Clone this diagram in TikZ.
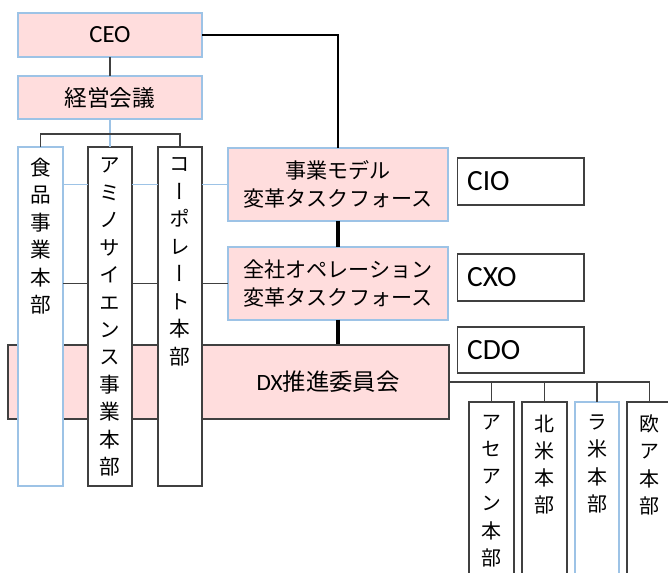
\documentclass[tikz,border=0pt]{standalone}
\usepackage{fontspec}
\setmainfont{Carlito}
\newfontfamily\jp{Noto Sans CJK JP}
\newfontfamily\jpv[RawFeature={+vert}]{Noto Sans CJK JP}
\definecolor{pinkf}{HTML}{FFDDDD}
\definecolor{blueb}{HTML}{9DC3E6}
\definecolor{darkb}{HTML}{404040}
\tikzset{
  pinkbox/.style={draw=blueb, fill=pinkf, line width=1pt, inner sep=0pt, outer sep=0pt},
  whitebox/.style={draw=darkb, fill=white, line width=1pt, inner sep=0pt, outer sep=0pt},
  bluewhite/.style={draw=blueb, fill=white, line width=1pt, inner sep=0pt, outer sep=0pt},
  vtext/.style={anchor=north, inner sep=0pt, align=center, font=\jpv\fontsize{15.5}{20.6}\selectfont},
  rtext/.style={anchor=north, inner sep=0pt, align=center, font=\jpv\fontsize{15}{20.4}\selectfont},
  dk/.style={draw=darkb, line width=0.8pt},
  bl/.style={draw=blueb, line width=0.8pt},
  thickA/.style={draw=black, line width=2pt},
  thickB/.style={draw=black, line width=3.5pt},
  cbox/.style={whitebox, text width=80pt, align=left, inner xsep=7.5pt, font=\fontsize{22}{24}\selectfont}
}
\begin{document}
\begin{tikzpicture}[x=0.75pt,y=-0.75pt]
\useasboundingbox (0,0) rectangle (668,573);
\clip (0,0) rectangle (668,573);
\fill[white] (0,0) rectangle (668,573);

% top boxes
\node[pinkbox, minimum width=138pt, minimum height=33pt, font=\fontsize{18.5}{20}\selectfont] (ceo) at (110,35) {CEO};
\node[pinkbox, minimum width=138pt, minimum height=32.25pt, font=\jp\fontsize{17}{20}\selectfont] (keiei) at (110,97.5) {経営会議};

% task forces
\node[pinkbox, minimum width=165pt, minimum height=54.75pt, align=center, font=\jp\fontsize{15.8}{21}\selectfont] (jigyo) at (338,184.5) {事業モデル\\変革タスクフォース};
\node[pinkbox, minimum width=165pt, minimum height=54.75pt, align=center, font=\jp\fontsize{15.8}{21}\selectfont] (zensha) at (338,283.5) {全社オペレーション\\変革タスクフォース};

% C-level boxes
\node[cbox, minimum height=35.25pt] (cio) at (520.5,181.5) {CIO};
\node[cbox, minimum height=35.25pt] (cxo) at (520.5,277.5) {CXO};
\node[cbox, minimum height=34.5pt] (cdo) at (520.5,350) {CDO};

% DX committee
\node[draw=darkb, fill=pinkf, line width=0.9pt, inner sep=0pt, minimum width=330.75pt, minimum height=55.5pt] (dx) at (228.5,382) {};
\node[inner sep=0pt, font=\fontsize{17.5}{20}\selectfont] (dxt) at (328,382) {DX{\jp 推進委員会}};

% vertical division boxes
\node[bluewhite, minimum width=33.75pt, minimum height=254.25pt] (shoku) at (40.5,316.5) {};
\node[whitebox, minimum width=33pt, minimum height=254.25pt] (amino) at (110,316.5) {};
\node[whitebox, minimum width=33pt, minimum height=254.25pt] (corp) at (180,316.5) {};
\node[vtext] (shokut) at ([yshift=-8pt]shoku.north) {食\\品\\事\\業\\本\\部};
\node[vtext] (aminot) at ([yshift=-8pt]amino.north) {ア\\ミ\\ノ\\サ\\イ\\エ\\ン\\ス\\事\\業\\本\\部};
\node[vtext] (corpt) at ([yshift=-8pt]corp.north) {コ\\ー\\ポ\\レ\\ー\\ト\\本\\部};

% regional boxes
\node[whitebox, minimum width=33.75pt, minimum height=148.5pt] (asean) at (491.5,501) {};
\node[whitebox, minimum width=33.75pt, minimum height=148.5pt] (hoku) at (544.5,501) {};
\node[bluewhite, minimum width=33pt, minimum height=148.5pt] (rabei) at (597,501) {};
\node[whitebox, minimum width=33.75pt, minimum height=148.5pt] (oua) at (649.5,501) {};
\node[rtext] (aseant) at ([yshift=-9.5pt]asean.north) {ア\\セ\\ア\\ン\\本\\部};
\node[rtext] (hokut) at ([yshift=-9.5pt]hoku.north) {北\\米\\本\\部};
\node[rtext] (rabeit) at ([yshift=-9.5pt]rabei.north) {ラ\\米\\本\\部};
\node[rtext] (ouat) at ([yshift=-9.5pt]oua.north) {欧\\ア\\本\\部};

% connectors
\coordinate (br) at (110,134);
\draw[dk] (ceo.south) -- (keiei.north);
\draw[bl] (keiei.south) -- (amino.north);
\draw[dk] (shoku.north) |- (br) -| (corp.north);

\draw[bl] (shoku.east |- jigyo.west) -- (amino.west |- jigyo.west);
\draw[bl] (amino.east |- jigyo.west) -- (corp.west |- jigyo.west);
\draw[bl] (corp.east |- jigyo.west) -- (jigyo.west);
\draw[dk] (shoku.east |- zensha.west) -- (amino.west |- zensha.west);
\draw[dk] (amino.east |- zensha.west) -- (corp.west |- zensha.west);
\draw[dk] (corp.east |- zensha.west) -- (zensha.west);

\draw[thickA] (ceo.east) -| (jigyo.north);
\draw[thickB] (jigyo.south) -- (zensha.north);
\draw[thickB] (zensha.south) -- (zensha.south |- dx.north);

\draw[dk] (dx.east) -| (oua.north);
\draw[dk] (asean.north) -- (asean.north |- dx.east);
\draw[dk] (hoku.north) -- (hoku.north |- dx.east);
\draw[dk] (rabei.north) -- (rabei.north |- dx.east);
\end{tikzpicture}
\end{document}
